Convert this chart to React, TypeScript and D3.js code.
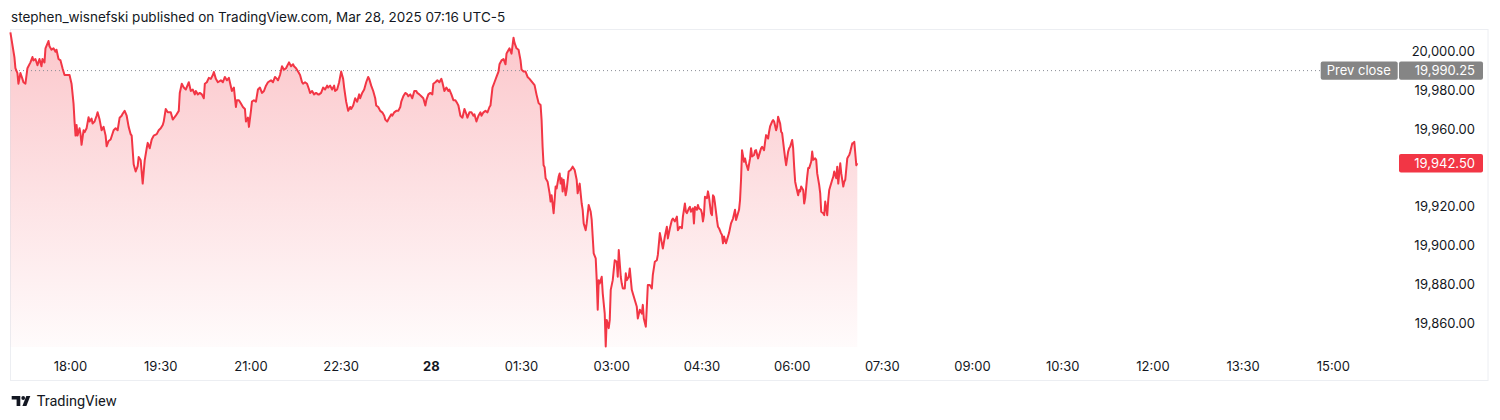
import React from "react";
import * as d3 from "d3";

// ---- data (minutes after 17:00 on Mar 27, price) ----
const sessionStart = new Date(2025, 2, 27, 17, 0);
const tape: [number, number][] = [
  [0,20010],[4,19997.25],[5,19991.5],[7,19989],[8,19983.5],[10,19989],[12,19986],[13,19984.25],[15,19983.5],[17,19991.5],[20,19994.5],[22,19997.25],[23,19995.5],[25,19996.25],[27,19993],[29,19996.25],[31,19992.5],[32,19996.25],[34,19994.5],[35,20001.75],[38,20005.5],[39,20002.75],[41,20001],[43,20001.75],[45,20000],[46,20001],[48,19996.25],[50,19995.5],[52,19991.5],[54,19988],[56,19988],[59,19988],[61,19983.5],[63,19973.25],[64,19964],[65,19956.75],[66,19962.25],[67,19956.75],[69,19960.5],[70,19957.5],[71,19952],[73,19959.5],[74,19958.5],[76,19960.5],[78,19966.25],[79,19964],[81,19965.5],[82,19963],[84,19964],[86,19967],[87,19968.75],[89,19965],[90,19962.25],[91,19959.5],[93,19961.25],[95,19956.75],[96,19951.25],[98,19954],[100,19954.75],[103,19959.5],[105,19960.5],[107,19959.5],[109,19966],[111,19967],[112,19968],[114,19969.5],[116,19967],[118,19961.25],[120,19957.5],[121,19956.75],[123,19942],[125,19938.25],[127,19941],[128,19945.75],[130,19944],[132,19932],[134,19944],[136,19950.25],[137,19953],[139,19950.25],[141,19954.75],[143,19956.75],[146,19957.5],[148,19959.5],[150,19960.5],[152,19962.25],[153,19964],[155,19970.5],[157,19968.75],[160,19968.75],[162,19965],[165,19967],[168,19969.5],[169,19978.75],[171,19983.5],[173,19981.5],[175,19980.5],[178,19984.25],[180,19979.75],[182,19980.5],[184,19978],[185,19979.75],[187,19978],[189,19978.75],[191,19978],[193,19976],[194,19983.5],[196,19984.25],[198,19986.5],[200,19986],[202,19988],[203,19989.5],[205,19986],[207,19984.25],[210,19985.25],[212,19984.25],[214,19987],[216,19985.25],[218,19986.5],[219,19984.25],[221,19979.75],[223,19981.5],[225,19971.5],[226,19975],[228,19975],[230,19973.25],[232,19971.5],[234,19970.5],[235,19964],[237,19966],[238,19961.25],[240,19969.5],[241,19974.25],[243,19975],[245,19974.25],[247,19980.5],[249,19981.5],[251,19978.75],[253,19979.75],[255,19982.5],[257,19984.25],[260,19985.25],[262,19984.25],[264,19987],[266,19986],[267,19985.25],[269,19988],[271,19992.5],[273,19990.75],[275,19991.5],[276,19992.5],[278,19994.5],[280,19992.5],[282,19993.5],[283,19992.5],[285,19991.5],[287,19989.75],[289,19988],[291,19984.25],[292,19983.5],[294,19984.25],[296,19983.5],[298,19980.5],[299,19978.75],[301,19979.75],[303,19978],[305,19978.75],[307,19978],[308,19978],[310,19978.75],[312,19981.5],[314,19980.5],[316,19982.5],[317,19981.5],[319,19982.5],[321,19980.5],[323,19982.5],[324,19979.75],[326,19980.5],[328,19984.25],[330,19989.75],[332,19986],[333,19981.5],[335,19974.25],[337,19969.5],[339,19971.5],[340,19970.5],[342,19972.25],[344,19976],[346,19974.25],[348,19978],[349,19976],[351,19978.75],[353,19980.5],[355,19984.25],[357,19987],[358,19986],[360,19982.5],[362,19979.75],[364,19976],[365,19972.25],[367,19971.5],[369,19969.5],[371,19968.75],[373,19967],[374,19965],[376,19964],[378,19966],[380,19967.75],[381,19967],[383,19968.75],[385,19969.5],[387,19969.5],[389,19971.5],[390,19974.25],[392,19977],[394,19978.75],[396,19978],[397,19977],[399,19978],[401,19976],[403,19979.75],[405,19979.75],[406,19978.75],[408,19978],[410,19977],[412,19976],[414,19972.25],[415,19975],[417,19978],[419,19978.75],[421,19978],[422,19983.5],[424,19984.25],[426,19985.25],[428,19984.25],[430,19986],[431,19984.25],[433,19979.75],[435,19981.5],[437,19979.75],[438,19980.5],[440,19978],[442,19975],[444,19975],[446,19973.25],[447,19972.25],[449,19967],[451,19966],[453,19970.5],[455,19967.75],[456,19966],[458,19968.75],[460,19968.75],[462,19967],[463,19967.75],[465,19964],[467,19967],[469,19968.75],[470,19967],[472,19968.75],[474,19969.5],[476,19968.75],[478,19971.5],[479,19972.25],[481,19981.5],[483,19984.25],[485,19987],[487,19989.75],[488,19993.5],[490,19995.5],[492,19996.25],[494,19993.5],[495,19999],[496,20000],[498,20001.75],[500,19999],[502,20007.25],[503,20004.5],[505,20001.75],[507,20001],[509,19995.5],[510,19990.75],[512,19989.75],[514,19989.75],[516,19987],[518,19986],
  [523,19982.75],[525,19977.75],[527,19973.5],[529,19972.5],[530,19964.75],[531,19951],[532,19941.5],[533,19940.5],[534,19934.75],[536,19933],[538,19927],[539,19922.75],[540,19926],[542,19916.75],[543,19923.5],[544,19930.5],[545,19929.5],[547,19935.5],[548,19937.25],[549,19932],[550,19934.75],[551,19928],[552,19934],[554,19926],[555,19928.75],[557,19938.25],[559,19939],[561,19940.75],[563,19939],[565,19934],[566,19927],[568,19932],[570,19921.75],[571,19918.5],[572,19911.5],[574,19908],[575,19911.5],[577,19921],[579,19917.5],[580,19913.25],[582,19896],[584,19893.5],[585,19882.25],[586,19867],[587,19882.25],[588,19880.5],[590,19884],[591,19875.5],[593,19865],[594,19848],[595,19861.75],[597,19857.5],[598,19861.75],[599,19877.25],[601,19882.25],[602,19887.5],[603,19892.5],[605,19891.75],[606,19884],[607,19897.75],[609,19884],[610,19880.5],[611,19878],[613,19878],[614,19885.75],[615,19882.25],[617,19884],[618,19888.25],[620,19877.25],[621,19875.5],[623,19872],[625,19868.5],[626,19862.5],[628,19867],[630,19865],[631,19869.5],[632,19862.5],[634,19858.25],[635,19868.5],[636,19879.75],[638,19879.75],[640,19878],[641,19885],[643,19891.75],[645,19892.5],[646,19895.25],[648,19906.5],[650,19901.25],[651,19898.5],[653,19904.75],[655,19909.75],[656,19903.75],[658,19909],[660,19913.25],[661,19914],[663,19912.5],[665,19915],[666,19908],[668,19909.75],[670,19909],[671,19915],[673,19921.75],[674,19917.5],[675,19916.75],[677,19919.25],[678,19920],[679,19917.5],[681,19919.25],[682,19911.5],[683,19920],[685,19918.5],[686,19921],[687,19919.25],[689,19918.5],[690,19916.75],[691,19912.5],[692,19915.75],[693,19925.25],[695,19924.5],[696,19928],[697,19925.25],[699,19916.75],[700,19915.75],[701,19926],[702,19925.25],[703,19921.75],[705,19913.25],[706,19909.75],[707,19909],[709,19906.5],[710,19905.5],[711,19901.25],[712,19904.75],[714,19901.25],[715,19903],[717,19906.5],[718,19909],[719,19911.5],[721,19914],[723,19918.5],[724,19913.25],[725,19915],[727,19918.5],[728,19923.5],[729,19934],[730,19949.25],[732,19943.25],[733,19945],[734,19942.5],[736,19939],[738,19945],[739,19950.25],[740,19946],[742,19946.75],[743,19949],[744,19949.25],[746,19945],[748,19948.5],[749,19950.25],[750,19951],[752,19949.25],[753,19953.5],[754,19957],[756,19955.25],[757,19958.75],[758,19961.5],[760,19964],[761,19964.75],[762,19964],[764,19959.5],[765,19961.5],[766,19966.5],[768,19963],[769,19958.75],[770,19958],[772,19949.25],[773,19945],[774,19941.5],[776,19948.5],[777,19950.25],[778,19951],[780,19954.5],[781,19950.25],[782,19940.75],[783,19933],[784,19930.5],[786,19926],[787,19928.75],[788,19928],[789,19930.5],[791,19928.75],[792,19921.75],[793,19924.5],[795,19935.5],[796,19940],[797,19940],[799,19943.25],[800,19948.5],[801,19944.25],[803,19945],[804,19944.25],[805,19937.25],[807,19931.25],[808,19927],[809,19917.5],[811,19916.75],[812,19915.75],[813,19922.75],[814,19919.25],[815,19915.75],[816,19923.5],[817,19928.75],[818,19930.5],[820,19934],[821,19935.5],[822,19938.25],[824,19934.75],[825,19940.75],[826,19932],[828,19942.5],[829,19937.25],[831,19930.5],[832,19933],[833,19934],[835,19945],[836,19946],[837,19946.75],[838,19948.5],[840,19952.75],[841,19952.75],[842,19953.5],[844,19941.5],[845,19942.5],
];
const prevClose = 19990.25;
const priceTicks = [19860, 19880, 19900, 19920, 19960, 19980, 20000];
const timeTickOffsets = [60, 150, 240, 330, 420, 510, 600, 690, 780, 870, 960, 1050, 1140, 1230, 1320];
const headerText = "stephen_wisnefski published on TradingView.com, Mar 28, 2025 07:16 UTC-5";
const brandText = "TradingView";

const FONT = "Inter, 'Noto Sans', sans-serif";
const TEXT = "#131722";
const RED = "#f23645";

const at = (m: number) => new Date(sessionStart.getTime() + m * 60000);

export default function App() {
  const W = 1500, H = 420;
  const paneTop = 30, paneBottom = 347;
  const x = d3.scaleTime().domain([at(0), at(1380)]).range([10.4, 1393.5]);
  const y = d3.scaleLinear().domain([19860, 20000]).range([323.3, 51.7]);
  const pts = tape.map(([m, v]) => ({ t: at(m), v }));
  const line = d3.line<{ t: Date; v: number }>().x(d => x(d.t)).y(d => y(d.v));
  const area = d3.area<{ t: Date; v: number }>().x(d => x(d.t)).y0(paneBottom).y1(d => y(d.v));
  const fmtPrice = d3.format(",.2f");
  const fmtTime = d3.timeFormat("%H:%M");
  const last = tape[tape.length - 1][1];
  const yPrev = y(prevClose);
  const yLast = y(last);

  return (
    <svg width={W} height={H} style={{ position: "absolute", left: 0, top: 0, background: "#fff" }} fontFamily={FONT}>
      <defs>
        <linearGradient id="fillGrad" gradientUnits="userSpaceOnUse" x1={0} x2={0} y1={paneTop} y2={paneBottom}>
          <stop offset="0%" stopColor={RED} stopOpacity={0.28} />
          <stop offset="100%" stopColor={RED} stopOpacity={0.02} />
        </linearGradient>
      </defs>
      <rect x={0} y={0} width={W} height={H} fill="#fff" />
      <text x={11} y={21.5} fontSize={13.5} fill={TEXT}>{headerText}</text>
      <rect x={10.5} y={29.5} width={1477.5} height={351} fill="none" stroke="#eceef2" strokeWidth={1} />
      <path d={area(pts) || ""} fill="url(#fillGrad)" />
      <line x1={11} x2={1320} y1={yPrev} y2={yPrev} stroke="#8a8d96" strokeWidth={1} strokeDasharray="1,3" />
      <path d={line(pts) || ""} fill="none" stroke={RED} strokeWidth={2} strokeLinejoin="round" />
      {priceTicks.map(p => (
        <text key={p} x={1475} y={y(p)} dy="0.35em" textAnchor="end" fontSize={13} fill={TEXT}>{fmtPrice(p)}</text>
      ))}
      <rect x={1320.7} y={yPrev - 9.2} width={77} height={18.4} rx={2} fill="#858585" />
      <text x={1326.7} y={yPrev} dy="0.35em" fontSize={13} fill="#fff">Prev close</text>
      <rect x={1399} y={yPrev - 9.2} width={84} height={18.4} rx={2} fill="#858585" />
      <text x={1475} y={yPrev} dy="0.35em" textAnchor="end" fontSize={13} fill="#fff">{fmtPrice(prevClose)}</text>
      <rect x={1399} y={yLast - 9.2} width={84} height={18.4} rx={2} fill={RED} />
      <text x={1475} y={yLast} dy="0.35em" textAnchor="end" fontSize={13} fill="#fff">{fmtPrice(last)}</text>
      {timeTickOffsets.map(m => {
        const t = at(m);
        const midnight = t.getHours() === 0 && t.getMinutes() === 0;
        return (
          <text key={m} x={x(t)} y={366.7} dy="0.35em" textAnchor="middle" fontSize={13} fill={TEXT} fontWeight={midnight ? 700 : 400}>
            {midnight ? d3.timeFormat("%-d")(t) : fmtTime(t)}
          </text>
        );
      })}
      <g fill={TEXT}>
        <path d="M11.7 396 H20.3 V406 H16.6 V399.4 H11.7 Z" />
        <circle cx={23.2} cy={398} r={1.9} />
        <path d="M26.3 396 H30.3 L26.4 406 H22.4 Z" />
      </g>
      <text x={36.7} y={401} dy="0.35em" fontSize={14.5} fill={TEXT} fontFamily="'Roboto', sans-serif">{brandText}</text>
    </svg>
  );
}
